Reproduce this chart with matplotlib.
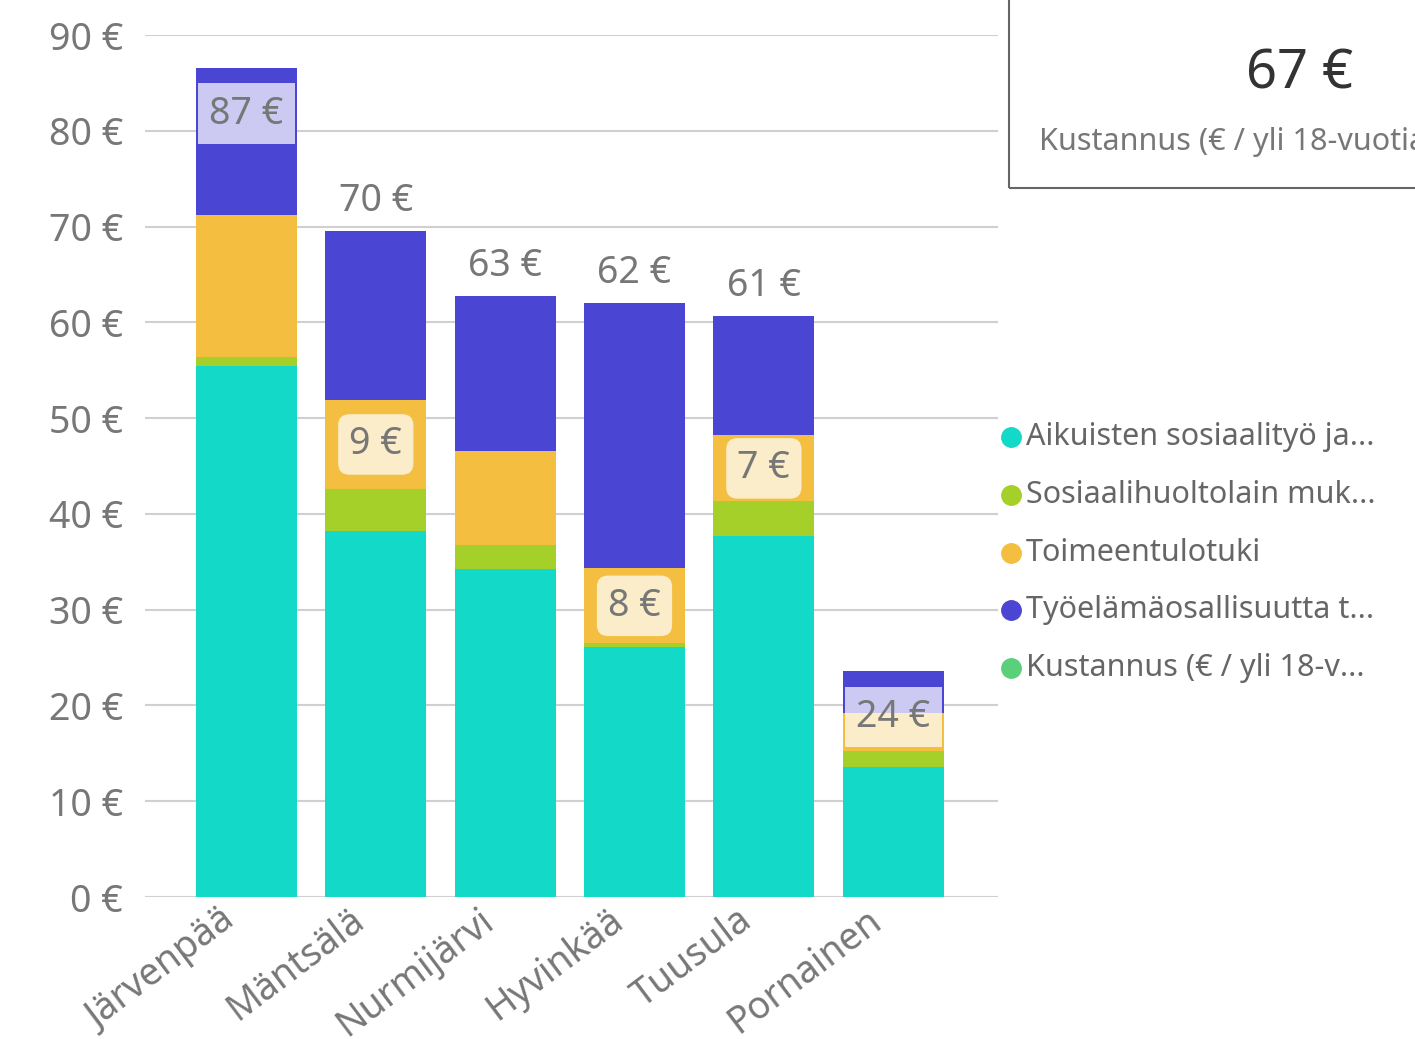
import matplotlib.pyplot as plt
from matplotlib.lines import Line2D
from matplotlib.patches import Rectangle
from matplotlib.transforms import ScaledTranslation
import numpy as np

plt.rcParams['font.family'] = ['Noto Sans', 'DejaVu Sans']

kunnat = ['Järvenpää', 'Mäntsälä', 'Nurmijärvi', 'Hyvinkää', 'Tuusula', 'Pornainen']
aikuisten = [55.4, 38.2, 34.2, 26.1, 37.7, 13.6]
sosiaali = [1.0, 4.4, 2.5, 0.4, 3.6, 1.6]
toimeentulo = [14.8, 9.3, 9.9, 7.8, 6.9, 4.0]
tyoelama = [15.4, 17.6, 16.1, 27.7, 12.5, 4.4]
sarjat = ['Aikuisten sosiaalityö ja...', 'Sosiaalihuoltolain muk...', 'Toimeentulotuki',
          'Työelämäosallisuutta t...', 'Kustannus (€ / yli 18-v...']
kortti_arvo = 67
kortti_teksti = 'Kustannus (€ / yli 18-vuotias)'

varit = ['#12D9C8', '#A5D02A', '#F4BF40', '#4B45D3', '#5BD07A']
harmaa = '#777777'
koko = 27

W, H = 1415, 1039
fig = plt.figure(figsize=(W / 100, H / 100), dpi=100)
ax = fig.add_axes([145 / W, 1 - 897 / H, (998 - 145) / W, (897 - 35) / H])

x = np.arange(len(kunnat))
leveys = 0.78
pohja = np.zeros(len(kunnat))
for arvot, vari in zip([aikuisten, sosiaali, toimeentulo, tyoelama], varit):
    ax.bar(x, arvot, leveys, bottom=pohja, color=vari, zorder=2)
    pohja += np.array(arvot)
summat = pohja

ax.set_xlim(-0.784, 5.81)
ax.set_ylim(0, 90)
ax.set_yticks(np.arange(0, 91, 10))
ax.set_yticklabels([f'{v} €' for v in range(0, 91, 10)])
ax.grid(axis='y', color='#D0D0D0', linewidth=1.5, zorder=0)
ax.set_axisbelow(True)
for s in ax.spines.values():
    s.set_visible(False)
ax.tick_params(axis='y', length=0, pad=16, labelsize=koko, labelcolor=harmaa)
ax.tick_params(axis='x', length=0, pad=3, labelsize=koko, labelcolor=harmaa)
ax.set_xticks(x)
ax.set_xticklabels(kunnat, rotation=37, ha='right', rotation_mode='anchor')
siirto = ScaledTranslation(-27 / 100, 0, fig.dpi_scale_trans)
for t in ax.get_xticklabels():
    t.set_transform(t.get_transform() + siirto)

laatikko = dict(boxstyle='round,pad=0.3', fc='white', alpha=0.72, ec='none')

# summat
sisalla = [True, False, False, False, False, True]
for i, s in enumerate(summat):
    if sisalla[i]:
        ax.text(i, s - 4.8, f'{round(s)} €', ha='center', va='center', fontsize=koko,
                color=harmaa, bbox=dict(boxstyle='square,pad=0.3', fc='white', alpha=0.72, ec='none'),
                zorder=4)
    else:
        ax.annotate(f'{round(s)} €', (i, s), xytext=(0, 8), textcoords='offset points',
                    ha='center', va='bottom', fontsize=koko, color=harmaa)

# toimeentulotuen arvot
merkityt = [1, 3, 4]
ala = np.array(aikuisten) + np.array(sosiaali)
for i in merkityt:
    ax.text(i, ala[i] + toimeentulo[i] / 2, f'{round(toimeentulo[i])} €', ha='center',
            va='center', fontsize=koko, color=harmaa, bbox=laatikko, zorder=4)

# selite
for i, (nimi, vari) in enumerate(zip(sarjat, varit)):
    yy = 1 - (437 + 57.8 * i) / H
    fig.add_artist(Line2D([1011 / W], [yy], marker='o', markersize=14, color=vari,
                          transform=fig.transFigure))
    fig.text(1026 / W, yy, nimi, ha='left', va='center', fontsize=22, color='#666666')

# kortti
fig.add_artist(Rectangle((1009 / W, 1 - 188 / H), 0.5, 0.5, transform=fig.transFigure,
                         fill=False, ec='#666666', lw=1.5))
fig.text(1300 / W, 1 - 74 / H, f'{kortti_arvo} €', ha='center', va='center', fontsize=39,
         color='#333333')
fig.text(1039 / W, 1 - 142 / H, kortti_teksti, ha='left', va='center', fontsize=22,
         color=harmaa)

fig.savefig('out.png', dpi=100)
